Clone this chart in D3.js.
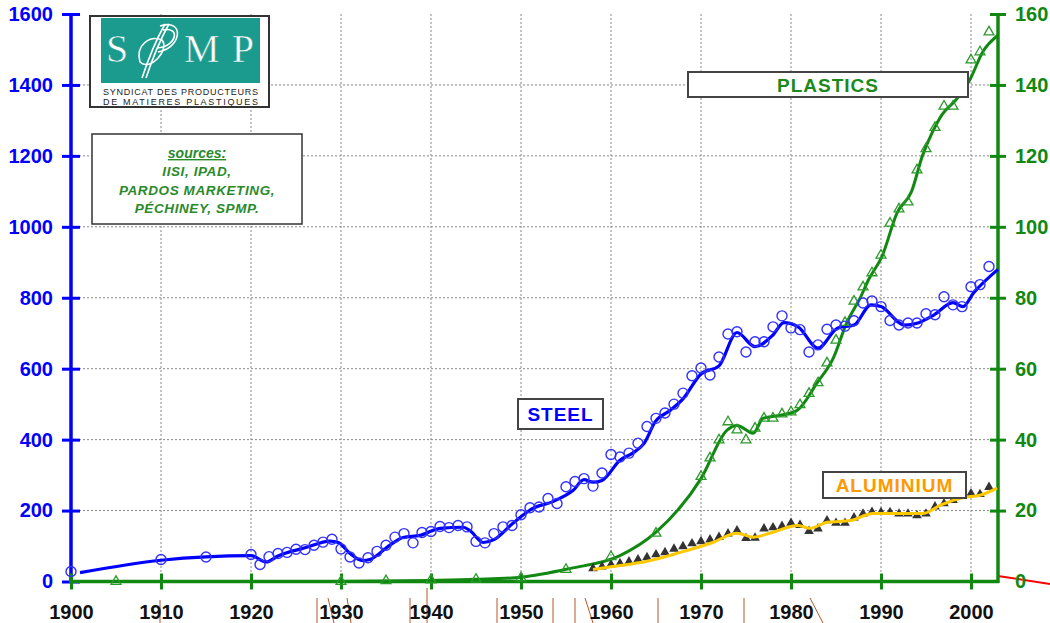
<!DOCTYPE html>
<html>
<head>
<meta charset="utf-8">
<script src="https://cdn.jsdelivr.net/npm/d3@7"></script>
<style>
  html, body { margin: 0; padding: 0; background: #fff; }
  svg { display: block; font-family: "Liberation Sans", Arial, sans-serif; }
</style>
</head>
<body>
<svg id="chart" width="1050" height="623"></svg>
<script>
// ---------- DATA ----------
const yearTicks = [1900, 1910, 1920, 1930, 1940, 1950, 1960, 1970, 1980, 1990, 2000];
const leftTicks = [0, 200, 400, 600, 800, 1000, 1200, 1400, 1600];
const rightTicks = [0, 20, 40, 60, 80, 100, 120, 140, 160];

// Steel (left axis) yearly points
const steelYears = [1900,1910,1915,1920,1921,1922,1923,1924,1925,1926,1927,1928,1929,1930,1931,1932,1933,1934,1935,1936,1937,1938,1939,1940,1941,1942,1943,1944,1945,1946,1947,1948,1949,1950,1951,1952,1953,1954,1955,1956,1957,1958,1959,1960,1961,1962,1963,1964,1965,1966,1967,1968,1969,1970,1971,1972,1973,1974,1975,1976,1977,1978,1979,1980,1981,1982,1983,1984,1985,1986,1987,1988,1989,1990,1991,1992,1993,1994,1995,1996,1997,1998,1999,2000,2001,2002];
const steelValues = [28,62,69,76,48,70,79,82,91,90,102,111,119,92,69,52,67,85,102,125,135,109,138,141,155,152,158,154,113,109,135,154,158,188,208,210,234,220,267,282,290,269,306,358,351,362,390,437,460,475,500,531,580,602,582,633,698,704,647,676,676,718,749,715,710,647,667,711,723,720,735,785,791,775,736,723,729,729,755,752,803,780,775,831,837,888];

// Steel trend line
const steelTrendYears = [1901,1910,1920,1921.7,1923,1926,1928.8,1929.7,1931,1932.4,1933.2,1935.4,1936.9,1938.8,1941,1943.6,1944.3,1945.8,1947,1949.1,1951.3,1953.6,1955.8,1957,1958,1959,1961,1962.4,1963.7,1964.9,1966.6,1968,1970,1972,1974,1976,1978,1979.2,1980.8,1983,1985.2,1987,1988.9,1990,1992.6,1994.1,1995.9,1998,1999.1,2000.3,2003];
const steelTrendValues = [25,60,73,55,72,95,114,110,79,59,62,102,124,130,150,153,144,110,118,164,206,226,257,287,280,285,342,362,390,450,483,515,585,608,702,662,695,730,718,658,715,723,780,775,723,729,752,786,775,814,880];

// Plastics (right axis) points
const plasticsYears = [1905,1930,1935,1940,1945,1950,1955,1960,1965,1970,1971,1972,1973,1974,1975,1976,1977,1978,1979,1980,1981,1982,1983,1984,1985,1986,1987,1988,1989,1990,1991,1992,1993,1994,1995,1996,1997,1998,2000,2001,2002];
const plasticsValues = [0,0,0.2,0.4,0.6,1,3.4,7,13.6,29.6,34.8,39.9,45,42.7,39.9,43.2,46,46,47.2,47.8,49.8,53,56,61.6,68,73,79,83,87,92,101,105,107,116,122,128,134,134,147,149.3,154.9];

// Plastics trend line
const plasticsTrendYears = [1930,1940,1945,1950,1955.5,1961,1965,1970,1972.9,1974,1975.8,1976.9,1979.1,1980.7,1982.9,1984.7,1986.2,1987.7,1988.6,1990.1,1991.8,1993.4,1994.6,1995.7,1996.8,1998.4,1999.9,2001.3,2003];
const plasticsTrendValues = [0,0.3,0.6,1.2,3.7,7.3,13.9,29,42.7,44,41.8,46,47,48.3,56,63,73,80,85,91.6,104,110,120,126.6,131.7,136,141.6,149.3,154];

// Aluminium (right axis) points
const aluYears = [1958,1959,1960,1961,1962,1963,1964,1965,1966,1967,1968,1969,1970,1971,1972,1973,1974,1975,1976,1977,1978,1979,1980,1981,1982,1983,1984,1985,1986,1987,1988,1989,1990,1991,1992,1993,1994,1995,1996,1997,1998,1999,2000,2001,2002];
const aluValues = [3.7,4.2,4.8,5.1,5.6,6.2,6.8,7.6,8.2,9.2,9.9,10.7,11.3,11.8,12.5,13.5,14.4,12.2,12.3,14.9,15.2,15.6,16.5,15.9,14.2,14.9,17.2,16.5,16.5,18,19.1,19.6,19.5,19.5,19.1,19.1,18.6,19.1,21.1,22,22.9,24.8,24.8,24.6,26.6];

// Aluminium trend line
const aluTrendYears = [1958,1960.2,1964,1967.7,1971.3,1974,1975.8,1978,1980.7,1982.1,1984,1986.6,1989.1,1994.7,1996.6,1999.1,2001,2002.9];
const aluTrendValues = [3.4,4.2,5.7,8.2,11,13.6,12.5,13.9,15.8,15,16.7,17.2,19.2,19.2,21.5,23.7,24.3,26.3];

const sourcesLines = ["IISI, IPAD,", "PARDOS MARKETING,", "PÉCHINEY, SPMP."];

// ---------- CHART ----------
const svg = d3.select("#chart");
const FONT = '"Liberation Sans", Arial, sans-serif';
const BLUE = "#0000ff", GREEN = "#118811", GOLD = "#ffc800";

const x = d3.scaleLinear().domain([1900, 2003]).range([71, 998]);
const yL = d3.scaleLinear().domain([0, 1600]).range([581.5, 14]);
const yR = d3.scaleLinear().domain([0, 160]).range([581.5, 14]);

// gridlines
const grid = svg.append("g").attr("stroke", "#888").attr("stroke-width", 1).attr("stroke-dasharray", "2,2");
grid.selectAll(".v").data(yearTicks.filter(d => d > 1900)).join("line")
  .attr("x1", d => x(d)).attr("x2", d => x(d)).attr("y1", 14).attr("y2", 581);
grid.selectAll(".h").data(leftTicks.filter(d => d > 0 && d < 1600)).join("line")
  .attr("x1", 71).attr("x2", 998).attr("y1", d => yL(d)).attr("y2", d => yL(d));

// artifact strokes near bottom labels
const artifacts = [[160,600,160,623],[317,598,317,623],[328,598,334,623],[347,598,351,623],[410,598,410,623],[427,588,427,623],[497,598,497,623],[553,598,553,623],[575,598,575,623],[585,598,593,623],[658,598,658,623],[744,598,744,623],[810,598,823,623]];
svg.append("g").selectAll("line").data(artifacts).join("line")
  .attr("x1", d => d[0]).attr("y1", d => d[1]).attr("x2", d => d[2]).attr("y2", d => d[3])
  .attr("stroke", "#b5562a").attr("stroke-width", 1);
svg.append("line").attr("x1", 998).attr("y1", 576).attr("x2", 1050).attr("y2", 584)
  .attr("stroke", "#ff0000").attr("stroke-width", 2);

// Left axis
const gL = svg.append("g").attr("transform", "translate(71,0)")
  .call(d3.axisLeft(yL).tickValues(leftTicks).tickSize(9).tickPadding(9).tickFormat(d3.format("d")));
gL.select(".domain").remove();
gL.selectAll(".tick line").attr("x1", 9).attr("x2", -9).attr("stroke", BLUE).attr("stroke-width", 3);
gL.selectAll(".tick text").attr("fill", BLUE).attr("font-size", 20).attr("font-weight", "bold").attr("font-family", FONT);
svg.append("line").attr("x1", 71).attr("x2", 71).attr("y1", 14).attr("y2", 581.5).attr("stroke", BLUE).attr("stroke-width", 3.5);

// Right axis
const gR = svg.append("g").attr("transform", "translate(998,0)")
  .call(d3.axisRight(yR).tickValues(rightTicks).tickSize(8).tickPadding(9).tickFormat(d3.format("d")));
gR.select(".domain").remove();
gR.selectAll(".tick line").attr("x1", -8).attr("x2", 8).attr("stroke", GREEN).attr("stroke-width", 3);
gR.selectAll(".tick text").attr("fill", GREEN).attr("font-size", 20).attr("font-weight", "bold").attr("font-family", FONT);
gR.selectAll(".tick").filter(d => d === 0).select("line").remove();
svg.append("line").attr("x1", 998).attr("x2", 998).attr("y1", 14).attr("y2", 583).attr("stroke", GREEN).attr("stroke-width", 3.5);

// Bottom axis
const gB = svg.append("g").attr("transform", "translate(0,581.5)")
  .call(d3.axisBottom(x).tickValues(yearTicks).tickSize(8).tickPadding(15).tickFormat(d3.format("d")));
gB.select(".domain").remove();
gB.selectAll(".tick line").attr("y1", -8).attr("y2", 8).attr("stroke", GREEN).attr("stroke-width", 3);
gB.selectAll(".tick text").attr("fill", "#111").attr("font-size", 20).attr("font-weight", "bold").attr("font-family", FONT);
svg.append("line").attr("x1", 69).attr("x2", 999).attr("y1", 581.5).attr("y2", 581.5).attr("stroke", GREEN).attr("stroke-width", 3.5);

// Lines
const mk = (ys, vs, scale) => ys.map((d, i) => [x(d), scale(vs[i])]);
const curve = d3.line().curve(d3.curveMonotoneX);

svg.append("path").attr("d", curve(mk(plasticsTrendYears, plasticsTrendValues, yR)))
  .attr("fill", "none").attr("stroke", GREEN).attr("stroke-width", 3);
svg.append("path").attr("d", curve(mk(steelTrendYears, steelTrendValues, yL)))
  .attr("fill", "none").attr("stroke", BLUE).attr("stroke-width", 3.2);

// Aluminium markers then line
const triBig = d3.symbol().type(d3.symbolTriangle).size(42);
const triSmall = d3.symbol().type(d3.symbolTriangle).size(40);
svg.append("g").selectAll("path").data(aluYears).join("path")
  .attr("d", triSmall)
  .attr("transform", (d, i) => `translate(${x(d)},${yR(aluValues[i])})`)
  .attr("fill", "#333");
svg.append("path").attr("d", curve(mk(aluTrendYears, aluTrendValues, yR)))
  .attr("fill", "none").attr("stroke", GOLD).attr("stroke-width", 3);

// Plastics markers
svg.append("g").selectAll("path").data(plasticsYears).join("path")
  .attr("d", triBig)
  .attr("transform", (d, i) => `translate(${x(d)},${yR(plasticsValues[i])})`)
  .attr("fill", "none").attr("stroke", "#2a9a2a").attr("stroke-width", 1.3);

// Steel markers
svg.append("g").selectAll("circle").data(steelYears).join("circle")
  .attr("cx", d => x(d)).attr("cy", (d, i) => yL(steelValues[i])).attr("r", 5)
  .attr("fill", "none").attr("stroke", "#3030ff").attr("stroke-width", 1.4);

// Label boxes
function labelBox(x0, y0, w, h, text, color) {
  svg.append("rect").attr("x", x0).attr("y", y0).attr("width", w).attr("height", h)
    .attr("fill", "#fff").attr("stroke", "#444").attr("stroke-width", 2);
  svg.append("text").attr("x", x0 + w / 2).attr("y", y0 + h / 2 + 7).attr("text-anchor", "middle")
    .attr("fill", color).attr("font-size", 19).attr("font-weight", "bold").attr("font-family", FONT)
    .attr("letter-spacing", 1).text(text);
}
labelBox(688, 72, 280, 25, "PLASTICS", "#1a8a1a");
labelBox(518, 399, 85, 30, "STEEL", BLUE);
labelBox(823, 472, 143, 26, "ALUMINIUM", "#ff9900");

// Logo
const logo = svg.append("g");
logo.append("rect").attr("x", 90).attr("y", 16).attr("width", 179).attr("height", 91)
  .attr("fill", "#fff").attr("stroke", "#333").attr("stroke-width", 2);
logo.append("rect").attr("x", 101).attr("y", 18).attr("width", 159).attr("height", 65).attr("fill", "#1b9b8d");
logo.append("text").attr("x", 106).attr("y", 62).attr("font-family", '"Liberation Serif", "DejaVu Serif", serif')
  .attr("font-size", 40).attr("fill", "#fff").attr("stroke", "#1b9b8d").attr("stroke-width", 0.6).text("S");
logo.append("text").attr("x", 184).attr("y", 62).attr("font-family", '"Liberation Serif", "DejaVu Serif", serif')
  .attr("font-size", 40).attr("textLength", 70).attr("fill", "#fff").attr("stroke", "#1b9b8d").attr("stroke-width", 0.6).text("MP");
const pg = logo.append("g").attr("fill", "none").attr("stroke", "#fff").attr("stroke-width", 1.6);
pg.append("path").attr("d", "M142,78 C148,60 156,40 165,24");
pg.append("path").attr("d", "M146,78 C152,60 160,40 169,24");
pg.append("path").attr("d", "M160,26 C185,18 182,48 158,52");
pg.append("path").attr("d", "M163,30 C180,26 178,46 157,48");
pg.append("path").attr("d", "M140,62 C135,45 150,35 162,40 C170,50 150,72 140,62");
logo.append("text").attr("x", 103).attr("y", 95).attr("textLength", 155).attr("lengthAdjust", "spacing")
  .attr("font-size", 9).attr("fill", "#222").attr("font-family", FONT).text("SYNDICAT DES PRODUCTEURS");
logo.append("text").attr("x", 103).attr("y", 105).attr("textLength", 155).attr("lengthAdjust", "spacing")
  .attr("font-size", 9).attr("fill", "#222").attr("font-family", FONT).text("DE MATIERES PLASTIQUES");

// Sources box
svg.append("rect").attr("x", 92).attr("y", 134).attr("width", 210).attr("height", 90)
  .attr("fill", "#fff").attr("stroke", "#333").attr("stroke-width", 1.5);
svg.append("text").attr("x", 197).attr("y", 158).attr("text-anchor", "middle")
  .attr("fill", "#2a8a2a").attr("font-size", 14).attr("font-weight", "bold").attr("font-style", "italic")
  .attr("font-family", FONT).attr("text-decoration", "underline").text("sources:");
svg.append("g").selectAll("text").data(sourcesLines).join("text")
  .attr("x", 197).attr("y", (d, i) => 176 + i * 18.5).attr("text-anchor", "middle")
  .attr("fill", "#2a8a2a").attr("font-size", 13.5).attr("font-weight", "bold").attr("font-style", "italic")
  .attr("letter-spacing", 0.6).attr("font-family", FONT).text(d => d);
</script>
</body>
</html>
